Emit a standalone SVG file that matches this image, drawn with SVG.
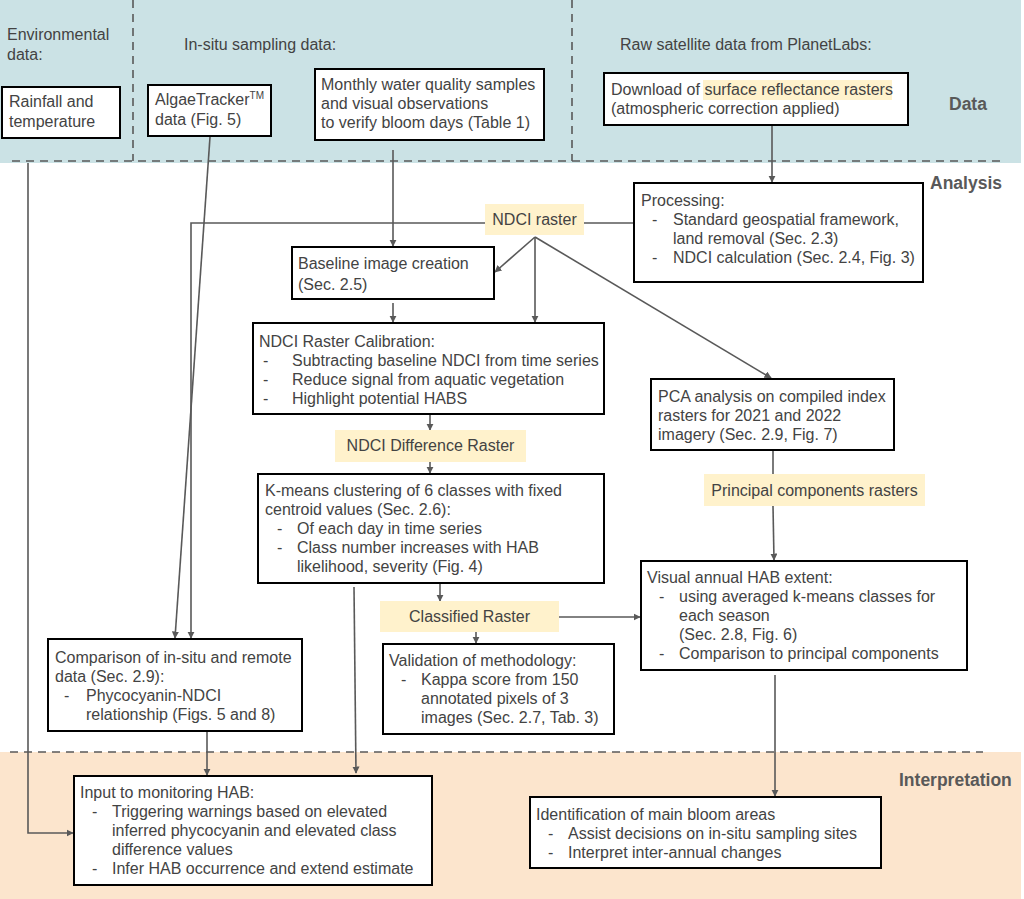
<svg xmlns="http://www.w3.org/2000/svg" width="1024" height="899" viewBox="0 0 1024 899">
<defs>
<style>
.t{font-family:"Liberation Sans",Arial,sans-serif;font-size:16px;fill:#434343}
.b{font-family:"Liberation Sans",Arial,sans-serif;font-size:17.5px;font-weight:bold;fill:#595959}
.box{fill:#fff;stroke:#000;stroke-width:2}
.hl{fill:#fff2cc}
.c{fill:none;stroke:#595959;stroke-width:1.6}
.d{fill:none;stroke:#595959;stroke-width:1.6;stroke-dasharray:8 6}
</style>
<marker id="ah" viewBox="0 0 10 10" refX="9" refY="5" markerWidth="4.5" markerHeight="4.5" orient="auto" markerUnits="strokeWidth">
<path d="M0,0 L10,5 L0,10 z" fill="#595959"/>
</marker>
</defs>
<g id="bands">
<rect x="0" y="0" width="1021" height="163" fill="#cbe2e5"/>
<rect x="0" y="752" width="1021" height="147" fill="#fce5cd"/>
<line class="d" x1="12" y1="161" x2="1000" y2="161"/>
<line class="d" x1="133" y1="0" x2="133" y2="161"/>
<line class="d" x1="572" y1="0" x2="572" y2="161"/>
<line class="d" x1="10" y1="752" x2="983" y2="752"/>
<text class="t" x="7" y="40">Environmental</text>
<text class="t" x="7" y="60">data:</text>
<text class="t" x="184" y="50">In-situ sampling data:</text>
<text class="t" x="620" y="50">Raw satellite data from PlanetLabs:</text>
<text class="b" x="949" y="110">Data</text>
<text class="b" x="930" y="189">Analysis</text>
<text class="b" x="899" y="786">Interpretation</text>
</g>
<g id="connectors">
<line class="c" x1="772" y1="125" x2="772" y2="182" marker-end="url(#ah)"/>
<line class="c" x1="634" y1="223" x2="584" y2="223"/>
<polyline class="c" points="485,223 191,223 191,638" marker-end="url(#ah)"/>
<line class="c" x1="210" y1="137" x2="175" y2="638" marker-end="url(#ah)"/>
<polyline class="c" points="28,163 28,833 73,833" marker-end="url(#ah)"/>
<line class="c" x1="393" y1="150" x2="393" y2="246" marker-end="url(#ah)"/>
<line class="c" x1="535" y1="237" x2="495" y2="272" marker-end="url(#ah)"/>
<line class="c" x1="535" y1="237" x2="535" y2="322" marker-end="url(#ah)"/>
<line class="c" x1="535" y1="237" x2="771" y2="378" marker-end="url(#ah)"/>
<line class="c" x1="393" y1="303" x2="393" y2="322" marker-end="url(#ah)"/>
<line class="c" x1="430" y1="415" x2="430" y2="430" marker-end="url(#ah)"/>
<line class="c" x1="430" y1="462" x2="430" y2="473" marker-end="url(#ah)"/>
<line class="c" x1="440" y1="584" x2="440" y2="601" marker-end="url(#ah)"/>
<line class="c" x1="354" y1="587" x2="356" y2="773" marker-end="url(#ah)"/>
<line class="c" x1="476" y1="632" x2="476" y2="643" marker-end="url(#ah)"/>
<line class="c" x1="559" y1="617" x2="640" y2="617" marker-end="url(#ah)"/>
<line class="c" x1="773" y1="451" x2="773" y2="474"/>
<line class="c" x1="773" y1="506" x2="774" y2="560" marker-end="url(#ah)"/>
<line class="c" x1="775" y1="675" x2="775" y2="796" marker-end="url(#ah)"/>
<line class="c" x1="207" y1="731" x2="207" y2="775" marker-end="url(#ah)"/>
</g>
<g id="rainfall">
<rect class="box" x="2" y="87" width="118" height="51"/>
<text class="t" x="9" y="107">Rainfall and</text>
<text class="t" x="9" y="127">temperature</text>
</g>
<g id="algaetracker">
<rect class="box" x="148" y="85" width="123" height="51"/>
<text class="t" x="155" y="105">AlgaeTracker<tspan font-size="10" dy="-6">TM</tspan></text>
<text class="t" x="155" y="125">data (Fig. 5)</text>
</g>
<g id="monthly">
<rect class="box" x="315" y="69" width="229" height="71"/>
<text class="t" x="321" y="90">Monthly water quality samples</text>
<text class="t" x="321" y="109">and visual observations</text>
<text class="t" x="321" y="128">to verify bloom days (Table 1)</text>
</g>
<g id="download">
<rect class="box" x="604" y="73" width="304" height="52"/>
<rect class="hl" x="703" y="80" width="189" height="20"/>
<text class="t" x="611" y="95">Download of surface reflectance rasters</text>
<text class="t" x="611" y="114">(atmospheric correction applied)</text>
</g>
<g id="processing">
<rect class="box" x="634" y="183" width="289" height="99"/>
<text class="t" x="641" y="206">Processing:</text>
<text class="t" x="652" y="225">-</text>
<text class="t" x="673" y="225">Standard geospatial framework,</text>
<text class="t" x="673" y="244">land removal (Sec. 2.3)</text>
<text class="t" x="652" y="263">-</text>
<text class="t" x="673" y="263">NDCI calculation (Sec. 2.4, Fig. 3)</text>
</g>
<g id="ndci-raster">
<rect class="hl" x="485" y="204" width="99" height="31"/>
<text class="t" x="534.5" y="225" text-anchor="middle">NDCI raster</text>
</g>
<g id="baseline">
<rect class="box" x="292" y="247" width="202" height="52"/>
<text class="t" x="298" y="269">Baseline image creation</text>
<text class="t" x="298" y="290">(Sec. 2.5)</text>
</g>
<g id="calibration">
<rect class="box" x="253" y="323" width="351" height="91"/>
<text class="t" x="259" y="347">NDCI Raster Calibration:</text>
<text class="t" x="263" y="366">-</text>
<text class="t" x="292" y="366">Subtracting baseline NDCI from time series</text>
<text class="t" x="263" y="385">-</text>
<text class="t" x="292" y="385">Reduce signal from aquatic vegetation</text>
<text class="t" x="263" y="404">-</text>
<text class="t" x="292" y="404">Highlight potential HABS</text>
</g>
<g id="ndci-diff">
<rect class="hl" x="335" y="430" width="191" height="32"/>
<text class="t" x="430.5" y="451" text-anchor="middle">NDCI Difference Raster</text>
</g>
<g id="kmeans">
<rect class="box" x="258" y="474" width="346" height="109"/>
<text class="t" x="265" y="496">K-means clustering of 6 classes with fixed</text>
<text class="t" x="265" y="515">centroid values (Sec. 2.6):</text>
<text class="t" x="277" y="534">-</text>
<text class="t" x="297" y="534">Of each day in time series</text>
<text class="t" x="277" y="553">-</text>
<text class="t" x="297" y="553">Class number increases with HAB</text>
<text class="t" x="297" y="572">likelihood, severity (Fig. 4)</text>
</g>
<g id="classified">
<rect class="hl" x="380" y="601" width="179" height="31"/>
<text class="t" x="469.5" y="622" text-anchor="middle">Classified Raster</text>
</g>
<g id="validation">
<rect class="box" x="383" y="644" width="231" height="90"/>
<text class="t" x="389" y="666">Validation of methodology:</text>
<text class="t" x="401" y="685">-</text>
<text class="t" x="421" y="685">Kappa score from 150</text>
<text class="t" x="421" y="704">annotated pixels of 3</text>
<text class="t" x="421" y="723">images (Sec. 2.7, Tab. 3)</text>
</g>
<g id="pca">
<rect class="box" x="651" y="379" width="243" height="71"/>
<text class="t" x="658" y="402">PCA analysis on compiled index</text>
<text class="t" x="658" y="421">rasters for 2021 and 2022</text>
<text class="t" x="658" y="440">imagery (Sec. 2.9, Fig. 7)</text>
</g>
<g id="principal">
<rect class="hl" x="704" y="474" width="221" height="32"/>
<text class="t" x="814.5" y="496" text-anchor="middle">Principal components rasters</text>
</g>
<g id="visual">
<rect class="box" x="641" y="561" width="326" height="109"/>
<text class="t" x="647" y="583">Visual annual HAB extent:</text>
<text class="t" x="659" y="602">-</text>
<text class="t" x="679" y="602">using averaged k-means classes for</text>
<text class="t" x="679" y="621">each season</text>
<text class="t" x="679" y="640">(Sec. 2.8, Fig. 6)</text>
<text class="t" x="659" y="659">-</text>
<text class="t" x="679" y="659">Comparison to principal components</text>
</g>
<g id="comparison">
<rect class="box" x="48" y="639" width="254" height="92"/>
<text class="t" x="55" y="663">Comparison of in-situ and remote</text>
<text class="t" x="55" y="682">data (Sec. 2.9):</text>
<text class="t" x="64" y="701">-</text>
<text class="t" x="86" y="701">Phycocyanin-NDCI</text>
<text class="t" x="86" y="720">relationship (Figs. 5 and 8)</text>
</g>
<g id="input">
<rect class="box" x="74" y="776" width="358" height="109"/>
<text class="t" x="80" y="798">Input to monitoring HAB:</text>
<text class="t" x="92" y="817">-</text>
<text class="t" x="112" y="817">Triggering warnings based on elevated</text>
<text class="t" x="112" y="836">inferred phycocyanin and elevated class</text>
<text class="t" x="112" y="855">difference values</text>
<text class="t" x="92" y="874">-</text>
<text class="t" x="112" y="874">Infer HAB occurrence and extend estimate</text>
</g>
<g id="identification">
<rect class="box" x="530" y="797" width="351" height="71"/>
<text class="t" x="536" y="820">Identification of main bloom areas</text>
<text class="t" x="548" y="839">-</text>
<text class="t" x="568" y="839">Assist decisions on in-situ sampling sites</text>
<text class="t" x="548" y="858">-</text>
<text class="t" x="568" y="858">Interpret inter-annual changes</text>
</g>
</svg>
